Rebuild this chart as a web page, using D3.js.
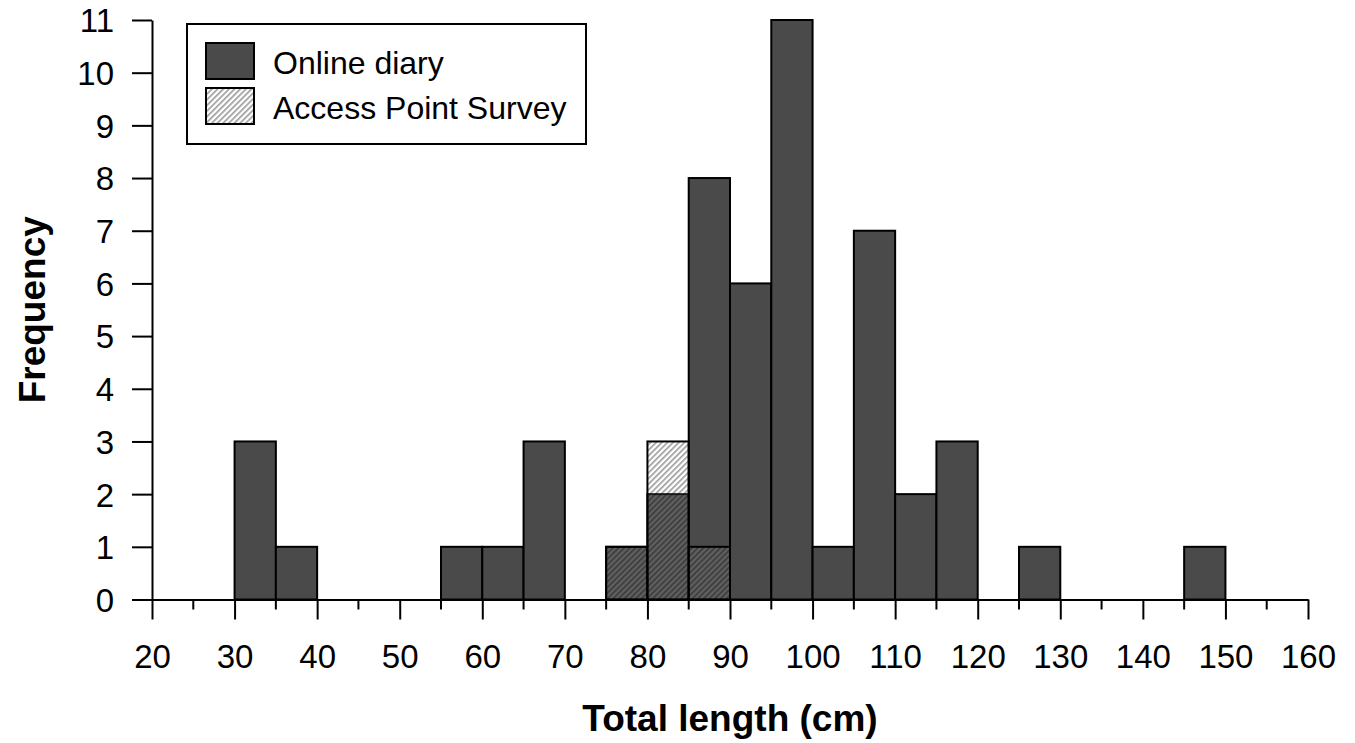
<!DOCTYPE html>
<html>
<head>
<meta charset="utf-8">
<script src="https://cdn.jsdelivr.net/npm/d3@7"></script>
<style>
  body { margin: 0; background: #fff; }
  svg { font-family: "Liberation Sans", Arial, sans-serif; }
</style>
</head>
<body>
<svg width="1355" height="743"></svg>
<script>
// bin lower edges (cm), each bin is 5 cm wide
var binStarts = [30, 35, 55, 60, 65, 75, 80, 85, 90, 95, 100, 105, 110, 115, 125, 145];
var onlineCounts = [3, 1, 1, 1, 3, 1, 2, 8, 6, 11, 1, 7, 2, 3, 1, 1];
var accessStarts = [75, 80, 85];
var accessCounts = [1, 3, 1];
var binWidth = 5;
var xTicks = [20, 30, 40, 50, 60, 70, 80, 90, 100, 110, 120, 130, 140, 150, 160];
var xMinorTicks = [25, 35, 45, 55, 65, 75, 85, 95, 105, 115, 125, 135, 145, 155];
var yTicks = [0, 1, 2, 3, 4, 5, 6, 7, 8, 9, 10, 11];
var legendLabels = ["Online diary", "Access Point Survey"];

var svg = d3.select("svg");

var x = d3.scaleLinear().domain([20, 160]).range([152, 1308]);
var y = d3.scaleLinear().domain([0, 11]).range([599.5, 20]);

// hatch pattern
var defs = svg.append("defs");
var pat = defs.append("pattern")
  .attr("id", "hatch")
  .attr("patternUnits", "userSpaceOnUse")
  .attr("width", 4).attr("height", 4)
  .attr("patternTransform", "rotate(45)");
pat.append("rect").attr("width", 4).attr("height", 4).attr("fill", "rgba(255,255,255,0.12)");
pat.append("rect").attr("x", 0).attr("y", 0).attr("width", 1.6).attr("height", 4)
  .attr("fill", "rgba(0,0,0,0.4)");

var online = binStarts.map(function(d, i) { return {x0: d, n: onlineCounts[i]}; });
var access = accessStarts.map(function(d, i) { return {x0: d, n: accessCounts[i]}; });

svg.append("g").selectAll("rect").data(online).enter().append("rect")
  .attr("x", function(d) { return x(d.x0); })
  .attr("y", function(d) { return y(d.n); })
  .attr("width", function(d) { return x(d.x0 + binWidth) - x(d.x0); })
  .attr("height", function(d) { return y(0) - y(d.n); })
  .attr("fill", "#4a4a4a")
  .attr("stroke", "#000")
  .attr("stroke-width", 2);

svg.append("g").selectAll("rect").data(access).enter().append("rect")
  .attr("x", function(d) { return x(d.x0); })
  .attr("y", function(d) { return y(d.n); })
  .attr("width", function(d) { return x(d.x0 + binWidth) - x(d.x0); })
  .attr("height", function(d) { return y(0) - y(d.n); })
  .attr("fill", "url(#hatch)")
  .attr("stroke", "#000")
  .attr("stroke-width", 2);

// x axis
var xAxis = svg.append("g")
  .attr("transform", "translate(0," + y(0) + ")")
  .call(d3.axisBottom(x).tickValues(xTicks).tickSize(20).tickPadding(6).tickSizeOuter(0));
xAxis.append("g").selectAll("line").data(xMinorTicks).enter().append("line")
  .attr("x1", function(d) { return x(d); }).attr("x2", function(d) { return x(d); })
  .attr("y1", 0).attr("y2", 10)
  .attr("stroke", "#000");

// y axis
var yAxis = svg.append("g")
  .attr("transform", "translate(" + x(20) + ",0)")
  .call(d3.axisLeft(y).tickValues(yTicks).tickSize(20).tickPadding(18).tickSizeOuter(0));

svg.selectAll(".domain, .tick line").attr("stroke", "#000").attr("stroke-width", 2);
xAxis.selectAll("line").attr("stroke-width", 2);
svg.selectAll(".tick text").attr("fill", "#000")
  .attr("font-size", 33).attr("font-family", "Liberation Sans, Arial, sans-serif");
xAxis.selectAll(".tick text").attr("dy", "0.72em").attr("y", 45);
yAxis.selectAll(".tick text").attr("dy", "0.36em");

// axis titles
svg.append("text")
  .attr("x", x(90)).attr("y", 731)
  .attr("text-anchor", "middle")
  .attr("font-size", 37).attr("font-weight", "bold")
  .text("Total length (cm)");

svg.append("text")
  .attr("transform", "translate(45," + y(5.5) + ") rotate(-90)")
  .attr("text-anchor", "middle")
  .attr("font-size", 37).attr("font-weight", "bold")
  .text("Frequency");

// legend
var lg = svg.append("g");
lg.append("rect").attr("x", 187).attr("y", 24).attr("width", 399).attr("height", 120)
  .attr("fill", "#fff").attr("stroke", "#000").attr("stroke-width", 2);
var fills = ["#4a4a4a", "url(#hatch)"];
legendLabels.forEach(function(t, i) {
  lg.append("rect").attr("x", 206).attr("y", 43 + i * 45).attr("width", 48).attr("height", 36)
    .attr("fill", fills[i]).attr("stroke", "#000").attr("stroke-width", 2);
  lg.append("text").attr("x", 273).attr("y", 74 + i * 45)
    .attr("font-size", 32).text(t);
});
</script>
</body>
</html>
